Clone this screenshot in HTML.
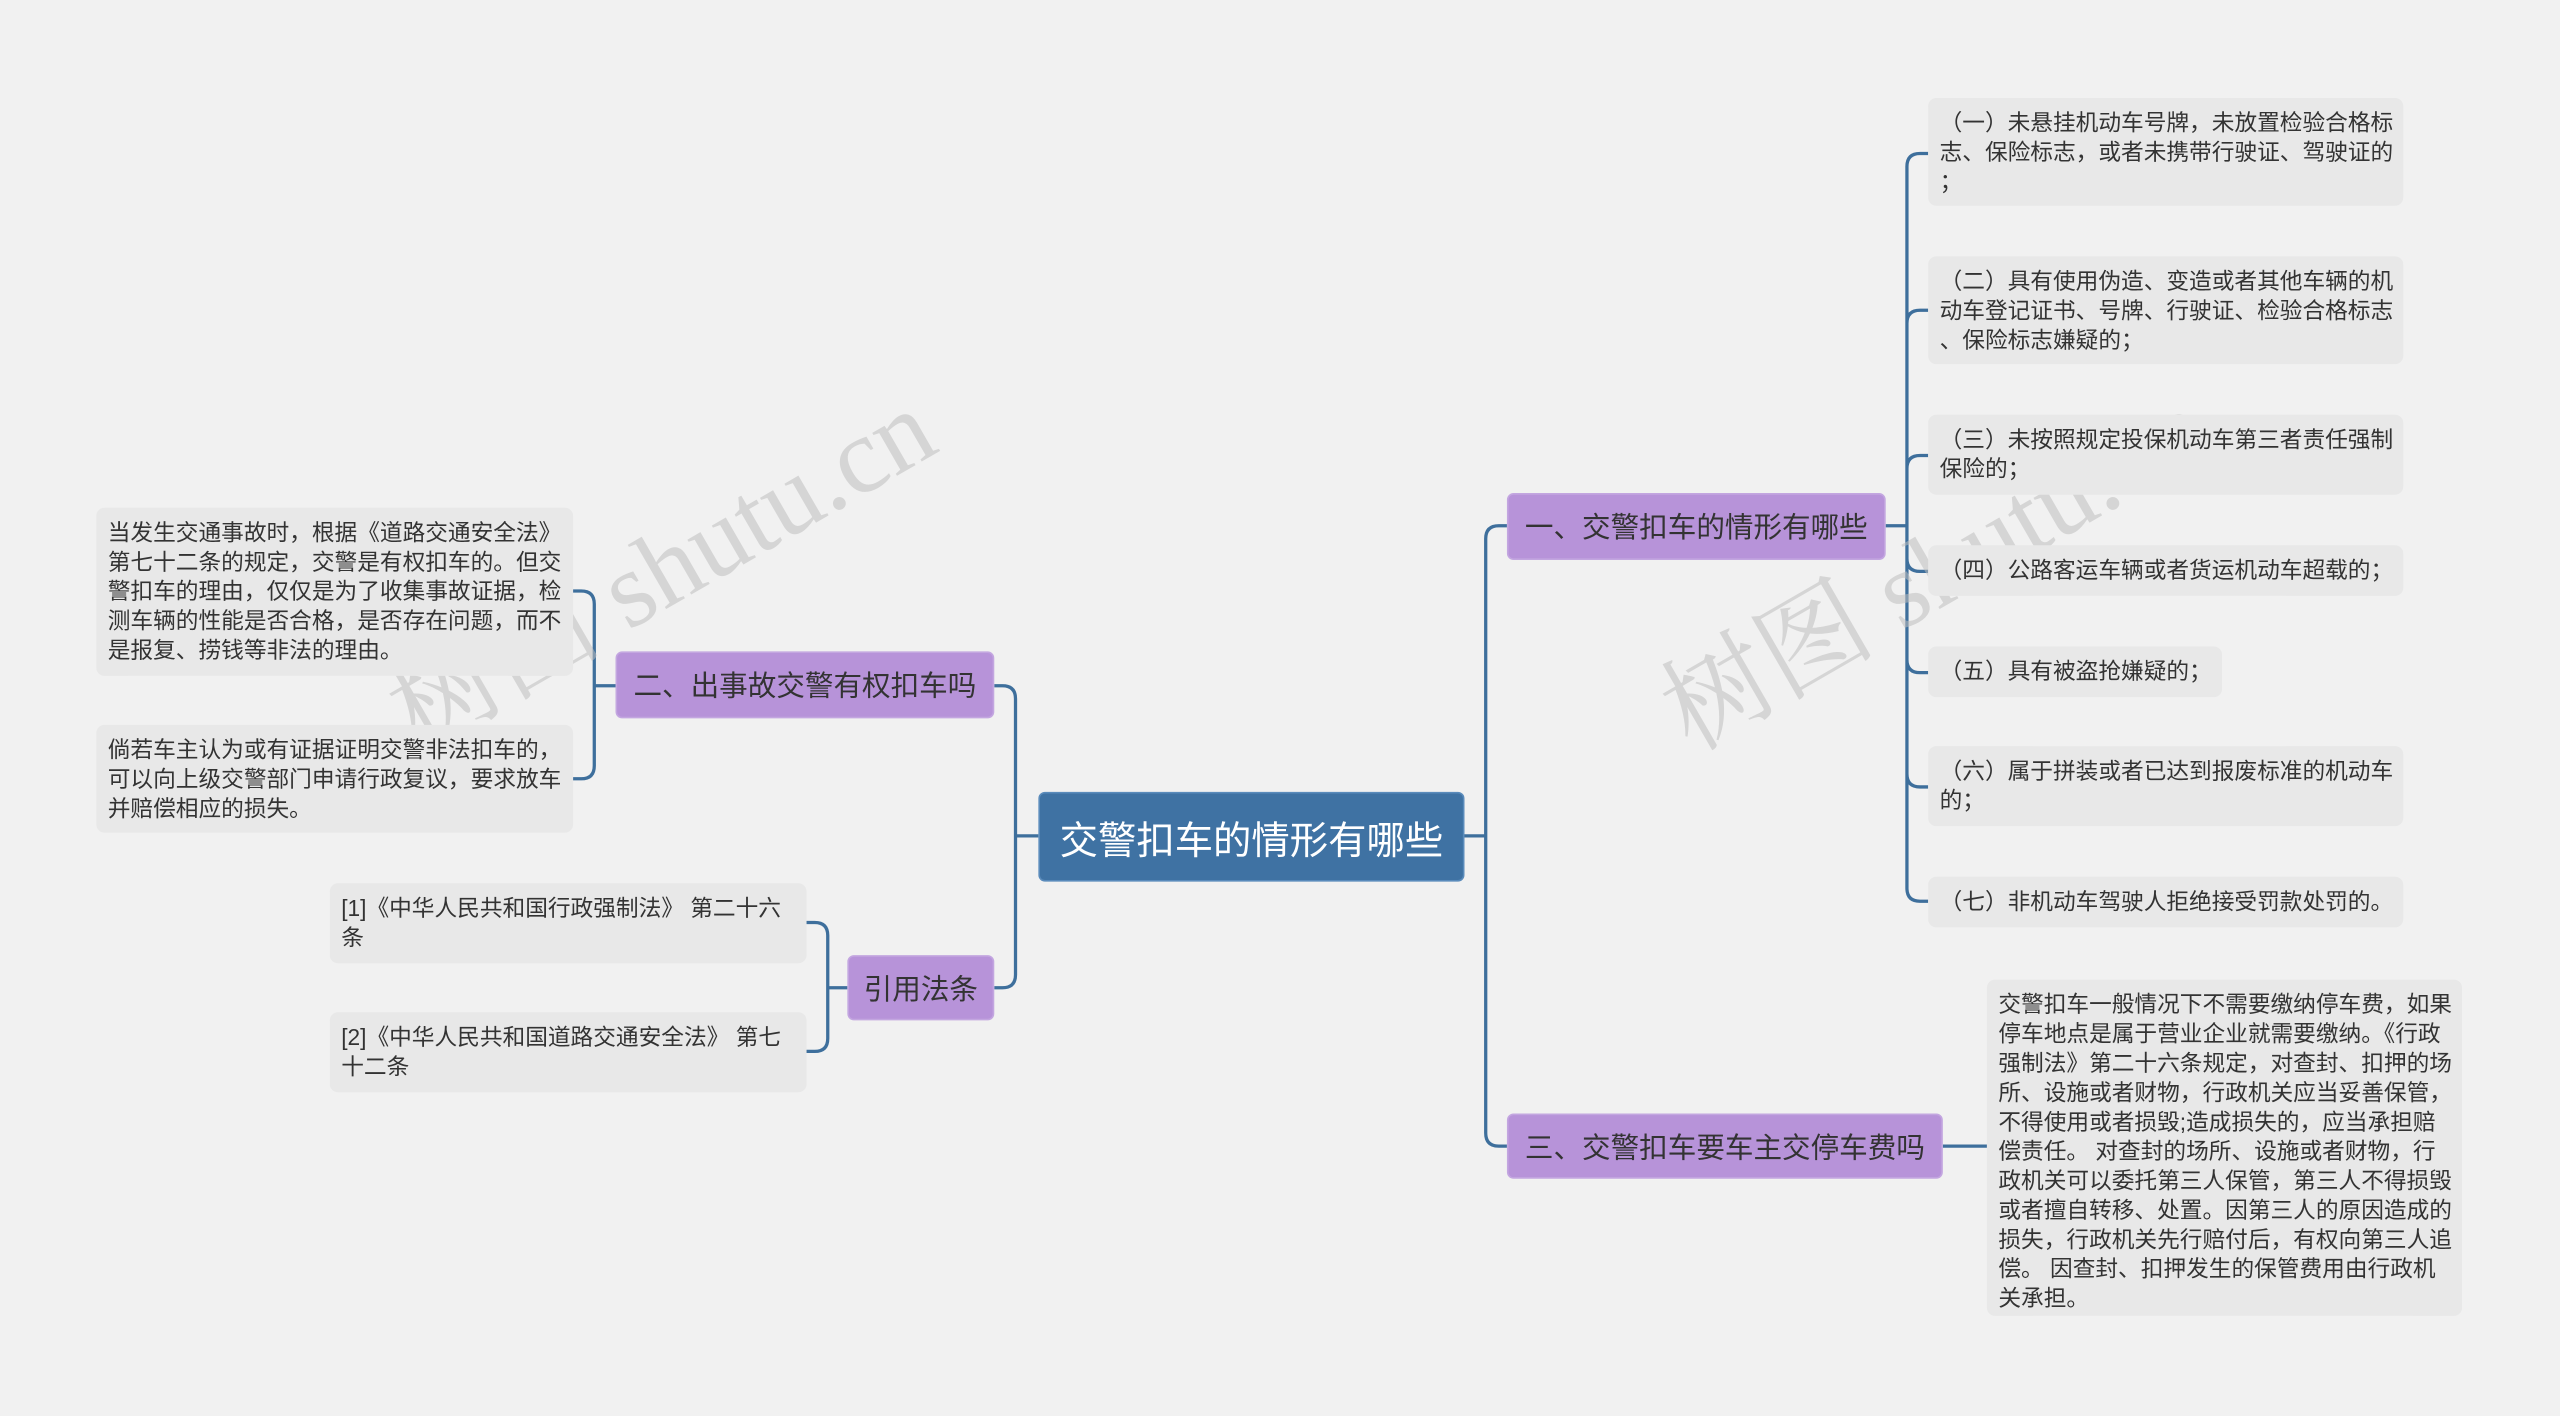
<!DOCTYPE html>
<html><head><meta charset="utf-8"><style>
html,body{margin:0;padding:0;background:#f1f1f1;overflow:hidden;width:2560px;height:1416px}
#clip{position:absolute;left:0;top:0;width:2560px;height:1416px;overflow:hidden}
#w{position:absolute;left:0;top:0;width:1568px;height:867px;overflow:hidden;transform:scale(1.63265);transform-origin:0 0;font-family:"Liberation Sans","Noto Sans CJK SC",sans-serif}
.n{position:absolute;box-sizing:border-box;white-space:nowrap}
.c{background:#3f72a3;color:#fff;font-size:23.5px;border-radius:4px;display:flex;align-items:center;justify-content:center;border:1px solid #5a8bbb}
.p{background:#b793d9;color:#333;font-size:17.5px;border-radius:4px;display:flex;align-items:center;justify-content:center;border:1px solid #c3a6e0}
.l{background:#e8e8e8;color:#333;font-size:13.9px;line-height:18px;border-radius:5px;padding:6px 0 0 7px}
.wm{position:absolute;color:rgba(190,190,190,0.55);font-family:"Liberation Serif","Noto Serif CJK SC",serif;font-size:66px;transform:rotate(-30deg);white-space:nowrap;transform-origin:0 0}
svg{position:absolute;left:0;top:0}
</style></head><body><div id="clip"><div id="w">
<svg width="1568" height="867" fill="none" stroke="#3e6f9c" stroke-width="2" id="s"></svg>

<div class="wm" style="left:218px;top:395px">树图 shutu.cn</div>
<div class="wm" style="left:998px;top:395px">树图 shutu.cn</div>

<div class="n c" style="left:636px;top:485px;width:261px;height:55px">交警扣车的情形有哪些</div>
<div class="n p" style="left:923px;top:302px;width:232px;height:41px">一、交警扣车的情形有哪些</div>
<div class="n p" style="left:923px;top:682px;width:267px;height:40px">三、交警扣车要车主交停车费吗</div>
<div class="n p" style="left:377px;top:399px;width:232px;height:41px">二、出事故交警有权扣车吗</div>
<div class="n p" style="left:519px;top:585px;width:90px;height:40px">引用法条</div>

<div class="n l" style="left:1181px;top:60px;width:291px;height:66px">（一）未悬挂机动车号牌，未放置检验合格标<br>志、保险标志，或者未携带行驶证、驾驶证的<br>；</div>
<div class="n l" style="left:1181px;top:157px;width:291px;height:66px">（二）具有使用伪造、变造或者其他车辆的机<br>动车登记证书、号牌、行驶证、检验合格标志<br>、保险标志嫌疑的；</div>
<div class="n l" style="left:1181px;top:254px;width:291px;height:49px">（三）未按照规定投保机动车第三者责任强制<br>保险的；</div>
<div class="n l" style="left:1181px;top:334px;width:291px;height:31px">（四）公路客运车辆或者货运机动车超载的；</div>
<div class="n l" style="left:1181px;top:396px;width:180px;height:31px">（五）具有被盗抢嫌疑的；</div>
<div class="n l" style="left:1181px;top:457px;width:291px;height:49px">（六）属于拼装或者已达到报废标准的机动车<br>的；</div>
<div class="n l" style="left:1181px;top:537px;width:291px;height:31px">（七）非机动车驾驶人拒绝接受罚款处罚的。</div>

<div class="n l" style="left:1217px;top:600px;width:291px;height:206px">交警扣车一般情况下不需要缴纳停车费，如果<br>停车地点是属于营业企业就需要缴纳。《行政<br>强制法》第二十六条规定，对查封、扣押的场<br>所、设施或者财物，行政机关应当妥善保管，<br>不得使用或者损毁;造成损失的，应当承担赔<br>偿责任。 对查封的场所、设施或者财物，行<br>政机关可以委托第三人保管，第三人不得损毁<br>或者擅自转移、处置。因第三人的原因造成的<br>损失，行政机关先行赔付后，有权向第三人追<br>偿。 因查封、扣押发生的保管费用由行政机<br>关承担。</div>

<div class="n l" style="left:59px;top:311px;width:292px;height:103px">当发生交通事故时，根据《道路交通安全法》<br>第七十二条的规定，交警是有权扣车的。但交<br>警扣车的理由，仅仅是为了收集事故证据，检<br>测车辆的性能是否合格，是否存在问题，而不<br>是报复、捞钱等非法的理由。</div>
<div class="n l" style="left:59px;top:444px;width:292px;height:66px">倘若车主认为或有证据证明交警非法扣车的，<br>可以向上级交警部门申请行政复议，要求放车<br>并赔偿相应的损失。</div>
<div class="n l" style="left:202px;top:541px;width:292px;height:49px">[1]《中华人民共和国行政强制法》 第二十六<br>条</div>
<div class="n l" style="left:202px;top:620px;width:292px;height:49px">[2]《中华人民共和国道路交通安全法》 第七<br>十二条</div>
</div></div>
<script>
var s=document.getElementById('s'),d='';
function conn(px,py,tx,cx,ys){ys.forEach(function(cy){var r=8,dir=cx>tx?1:-1;
 if(Math.abs(cy-py)<1){d+='M'+px+' '+py+'H'+cx;return;}
 var sg=cy>py?1:-1;
 d+='M'+px+' '+py+'H'+tx+'V'+(cy-sg*r)+'Q'+tx+' '+cy+' '+(tx+dir*r)+' '+cy+'H'+cx;});}
conn(897,512,910,923,[322,702]);
conn(1155,322,1168,1181,[94,190,279,350,412,482,552]);
conn(1190,702,1203,1217,[702]);
conn(636,512,622,609,[420,605]);
conn(377,420,364,351,[362,477]);
conn(519,605,507,494,[565,644]);
var p=document.createElementNS('http://www.w3.org/2000/svg','path');p.setAttribute('d',d);s.appendChild(p);
</script>
</body></html>
